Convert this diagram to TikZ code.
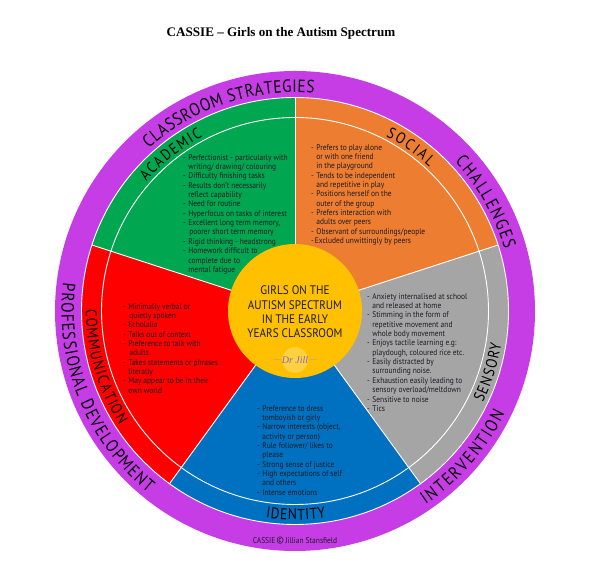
\documentclass[tikz,border=0pt]{standalone}
\usepackage{fontspec}
\setmainfont[FakeStretch=0.9]{PT Sans}
\newfontfamily\titlefont{Liberation Serif}
\newfontfamily\ringfam[FakeStretch=0.86]{PT Sans}
\usetikzlibrary{decorations.text}
\definecolor{csPurple}{HTML}{C63DE6}
\definecolor{csGreen}{HTML}{00A650}
\definecolor{csOrange}{HTML}{ED7D31}
\definecolor{csGrey}{HTML}{A5A5A5}
\definecolor{csBlue}{HTML}{0070C0}
\definecolor{csRed}{HTML}{FF0000}
\definecolor{csGold}{HTML}{FFC000}
\definecolor{csInk}{HTML}{1C1C24}
\definecolor{csLogo}{HTML}{B79AA8}
\newcommand{\ringfont}{\ringfam\fontsize{17.8}{17.8}\selectfont}
\newcommand{\bandfont}{\ringfam\fontsize{15.6}{15.6}\selectfont}
\newcommand{\dd}{\makebox[5.2pt][l]{-}}
\newcommand{\cc}{\hspace{5.2pt}}
\tikzset{
  spoke/.style    ={white,line width=0.9pt},
  listtext/.style ={anchor=north west,align=left,inner sep=0pt,text=csInk,
                    font=\fontsize{8.3}{9.36}\selectfont},
  hubtext/.style  ={align=center,text=csInk,inner sep=0pt,
                    font=\fontsize{12.4}{14.3}\selectfont},
  ringlabel/.style={decorate,decoration={text along path,text align=fit to path,text={|\ringfont|#1}}},
  bandlabel/.style={decorate,decoration={text along path,text align=fit to path,text={|\bandfont|#1}}},
}
\begin{document}
\begin{tikzpicture}[x=1pt,y=1pt]
\useasboundingbox (0,0) rectangle (600,572);
\node[font=\titlefont\bfseries\fontsize{13.1}{16}\selectfont,inner sep=0pt] (title) at (281,538.5) {CASSIE – Girls on the Autism Spectrum};

\begin{scope}[shift={(295,261)}]
\fill[csPurple] (0,0) circle[radius=240];
\foreach \a/\b/\c in {18/90/csOrange,-54/18/csGrey,-126/-54/csBlue,162/234/csRed,90/162/csGreen} {
  \fill[\c] (0,0) -- (\a:213.5) arc[start angle=\a,end angle=\b,radius=213.5] -- cycle;
}
\draw[spoke] (0,0) circle[radius=213.5];
\draw[spoke] (0,0) circle[radius=193.5];
\foreach \a in {90,18,-54,-126,162} { \draw[spoke] (0,0) -- (\a:213.5); }
\fill[csGold] (0,0) circle[radius=67];

% outer ring
\path[ringlabel=CLASSROOM STRATEGIES] (132:218.5) arc[start angle=132,end angle=85,radius=218.5];
\path[ringlabel=CHALLENGES] (43:218.5) arc[start angle=43,end angle=16.5,radius=218.5];
\path[ringlabel=INTERVENTION] (-56:233.5) arc[start angle=-56,end angle=-26,radius=233.5];
\path[ringlabel=PROFESSIONAL DEVELOPMENT] (173:233.5) arc[start angle=173,end angle=231,radius=233.5];

% inner band
\path[bandlabel=ACADEMIC] (139:197) arc[start angle=139,end angle=118,radius=197];
\path[bandlabel=SOCIAL] (62.5:197) arc[start angle=62.5,end angle=47,radius=197];
\path[bandlabel=SENSORY] (-26:209) arc[start angle=-26,end angle=-9,radius=209];
\path[bandlabel=IDENTITY] (-98:209) arc[start angle=-98,end angle=-81.5,radius=209];
\path[bandlabel=COMMUNICATION] (179.5:209) arc[start angle=179.5,end angle=213,radius=209];

\node[hubtext] (hub) at (0,-1) {GIRLS ON THE\\AUTISM SPECTRUM\\IN THE EARLY\\YEARS CLASSROOM};
\fill[csGold!75!white] (0,-49) circle[radius=13];
\node[font=\titlefont\itshape\fontsize{10}{10}\selectfont,text=csLogo!70!blue,inner sep=0pt] (logo) at (0,-49) {Dr Jill};
\draw[csLogo,line width=0.4pt] (logo.west) -- ++(-9,1);
\draw[csLogo,line width=0.4pt] (logo.east) -- ++(9,1);
\end{scope}

\node[listtext] (academic) at (183,418)
{\dd Perfectionist - particularly with\\
 \cc writing/ drawing/ colouring\\
 \dd Difficulty finishing tasks\\
 \dd Results don't necessarily\\
 \cc reflect capability\\
 \dd Need for routine\\
 \dd Hyperfocus on tasks of interest\\
 \dd Excellent long term memory,\\
 \cc\hspace{1pt}poorer short term memory\\
 \dd Rigid thinking - headstrong\\
 \dd Homework difficult to\\
 \cc complete due to\\
 \cc mental fatigue};

\node[listtext] (social) at (311,428)
{\dd Prefers to play alone\\
 \cc or with one friend\\
 \cc in the playground\\
 \dd Tends to be independent\\
 \cc and repetitive in play\\
 \dd Positions herself on the\\
 \cc outer of the group\\
 \dd Prefers interaction with\\
 \cc adults over peers\\
 \dd Observant of surroundings/people\\
 -\hspace{1pt}Excluded unwittingly by peers};

\node[listtext] (sensory) at (367,279)
{\dd Anxiety internalised at school\\
 \cc and released at home\\
 \dd Stimming in the form of\\
 \cc repetitive movement and\\
 \cc whole body movement\\
 \dd Enjoys tactile learning e.g:\\
 \cc playdough, coloured rice etc.\\
 \dd Easily distracted by\\
 \cc surrounding noise.\\
 \dd Exhaustion easily leading to\\
 \cc sensory overload/meltdown\\
 \dd Sensitive to noise\\
 \dd Tics};

\node[listtext] (identity) at (257,167)
{\dd Preference to dress\\
 \cc tomboyish or girly\\
 \dd Narrow interests  (object,\\
 \cc activity or person)\\
 \dd Rule follower/ likes to\\
 \cc please\\
 \dd Strong sense of justice\\
 \dd High expectations of self\\
 \cc and others\\
 \dd Intense emotions};

\node[listtext] (communication) at (123,269)
{\dd Minimally verbal or\\
 \cc\hspace{1pt}quietly spoken\\
 \dd Echolalia\\
 \dd Talks out of context\\
 \dd Preference to talk with\\
 \cc\hspace{1pt}adults\\
 \dd Takes statements or phrases\\
 \cc literally\\
 \dd May appear to be in their\\
 \cc own world};

\node[font=\fontsize{8.3}{9}\selectfont,text=csInk,inner sep=0pt] (credit) at (295,31)
  {CASSIE\,{\fontsize{10}{9}\selectfont\textcopyright}\,Jillian Stansfield};
\end{tikzpicture}
\end{document}
